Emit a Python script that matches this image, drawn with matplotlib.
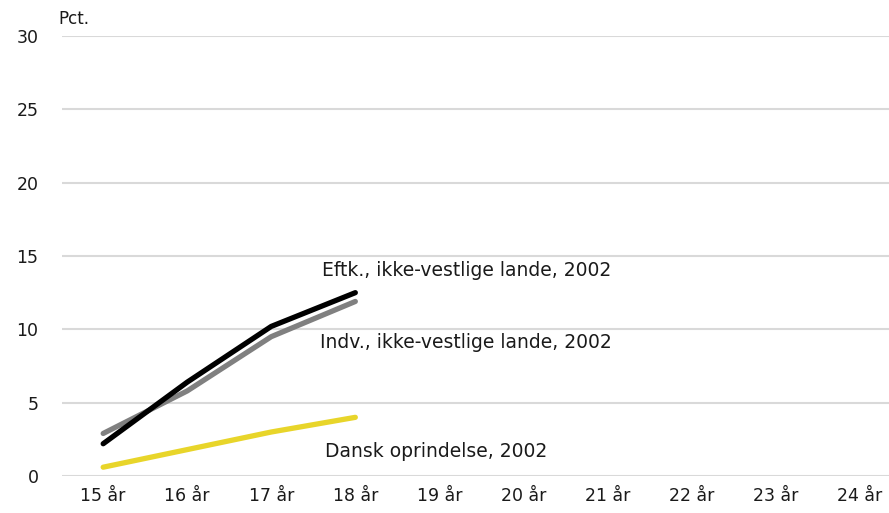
import matplotlib
matplotlib.use("Agg")
import matplotlib.pyplot as plt

categories = ["15 år", "16 år", "17 år", "18 år", "19 år", "20 år", "21 år", "22 år", "23 år", "24 år"]
eftk = [2.2, 6.4, 10.2, 12.5]
indv = [2.9, 5.8, 9.5, 11.9]
dansk = [0.6, 1.8, 3.0, 4.0]
yticks = [0, 5, 10, 15, 20, 25, 30]

fig = plt.figure(figsize=(8.89, 5.13), dpi=100)
ax = fig.add_axes([62/889, 1-476/513, 1-62/889, (476-36)/513])

x = list(range(len(categories)))
ax.plot(x[:len(dansk)], dansk, color="#e8d52a", lw=3.8, solid_capstyle="round", zorder=3)
ax.plot(x[:len(indv)], indv, color="#808080", lw=3.8, solid_capstyle="round", zorder=3)
ax.plot(x[:len(eftk)], eftk, color="#000000", lw=3.8, solid_capstyle="round", zorder=4)

ax.set_ylim(0, 30)
ax.set_xlim(-0.49, 9.35)
ax.set_yticks(yticks)
ax.set_xticks(x)
ax.set_xticklabels(categories)
ax.yaxis.grid(True, color="#d9d9d9", lw=1.5)
ax.set_axisbelow(True)
for s in ax.spines.values():
    s.set_visible(False)
ax.tick_params(axis="both", length=0, labelsize=12.5, colors="#1a1a1a")
ax.tick_params(axis="y", pad=17)
ax.tick_params(axis="x", pad=8)

fs = 13.5
ax.text(4.32, 14.0, "Eftk., ikke-vestlige lande, 2002", ha="center", va="center", fontsize=fs, color="#1a1a1a")
ax.text(4.32, 9.1, "Indv., ikke-vestlige lande, 2002", ha="center", va="center", fontsize=fs, color="#1a1a1a")
ax.text(3.96, 1.7, "Dansk oprindelse, 2002", ha="center", va="center", fontsize=fs, color="#1a1a1a")

fig.text(58/889, 1-19/513, "Pct.", ha="left", va="center", fontsize=12, color="#1a1a1a")

fig.savefig("out.png", dpi=100)
